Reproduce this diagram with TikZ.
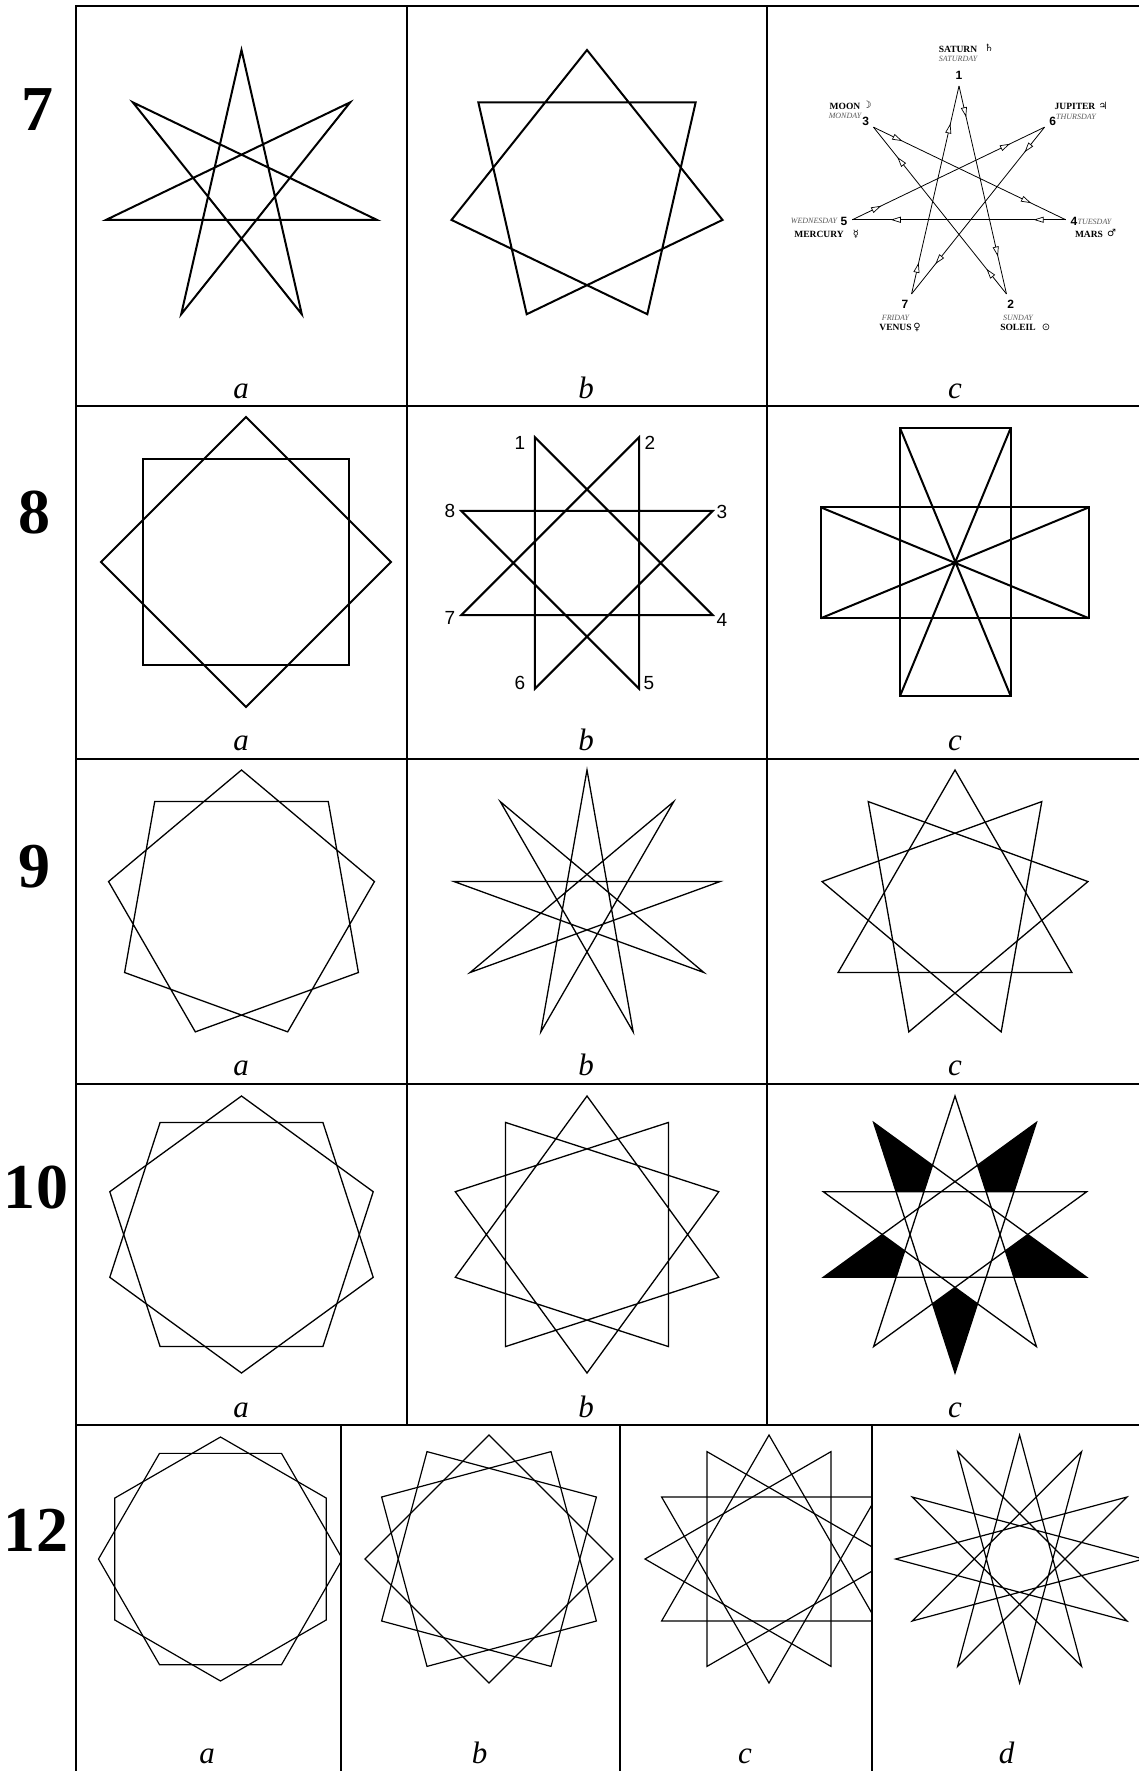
\documentclass[tikz,border=0pt]{standalone}
\usepackage{fontspec}
\setmainfont{Liberation Serif}
\newfontfamily\arialf{Liberation Sans}
\newfontfamily\symf{DejaVu Sans}
\usetikzlibrary{decorations.markings,arrows.meta,calc}

% #1 radius, #2 n, #3 k, #4 start angle, #5 style
\newcommand{\starfig}[5]{%
  \pgfmathtruncatemacro{\sfd}{gcd(#2,#3)}%
  \pgfmathtruncatemacro{\sfm}{#2/\sfd}%
  \pgfmathtruncatemacro{\sfdm}{\sfd-1}%
  \pgfmathtruncatemacro{\sfmm}{\sfm-1}%
  \foreach \c in {0,...,\sfdm}{%
    \draw[#5] ({#4+360/#2*\c}:#1) \foreach \j in {1,...,\sfmm}{ -- ({#4+360/#2*mod(\c+\j*#3,#2)}:#1)} -- cycle;
  }}

\tikzset{
  grid/.style={line width=2.6pt},
  figA/.style={line width=2pt, line join=miter},
  figB/.style={line width=1.3pt, line join=miter},
  figC/.style={line width=1.2pt, line join=miter},
  planet/.style={line width=0.8pt},
  arrmarks/.style={postaction={decorate}, decoration={markings,
     mark=at position 0.15 with {\arrow{Triangle[length=10pt,width=6pt,fill=white,line width=0.7pt]}},
     mark=at position 0.82 with {\arrow{Triangle[length=10pt,width=6pt,fill=white,line width=0.7pt]}}}},
  rowlab/.style={font=\fontsize{64}{64}\selectfont\bfseries, inner sep=0},
  sublab/.style={font=\fontsize{31}{31}\selectfont\itshape, inner sep=0, anchor=base},
  numlab/.style={font=\arialf\fontsize{19}{19}\selectfont, inner sep=0},
  pl/.style={font=\fontsize{9.5}{9.5}\selectfont\bfseries, inner sep=0},
  pd/.style={font=\fontsize{8}{8}\selectfont\itshape, text=black!65, inner sep=0},
  pn/.style={font=\arialf\fontsize{12}{12}\selectfont\bfseries, inner sep=0},
  ps/.style={font=\symf\fontsize{10}{10}\selectfont, inner sep=0},
}

\begin{document}
\begin{tikzpicture}[x=1pt,y=-1pt]
\useasboundingbox (0,0) rectangle (1139,1771);
\fill[white] (0,0) rectangle (1139,1771);

% ---------- grid ----------
\draw[grid] (76,1771) -- (76,6) -- (1139,6);
\draw[grid] (407,6) -- (407,1425);
\draw[grid] (767,6) -- (767,1425);
\foreach \y in {406,759,1084,1425} \draw[grid] (76,\y) -- (1139,\y);
\foreach \x in {341,620,872} \draw[grid] (\x,1425) -- (\x,1771);

% ---------- row labels ----------
\node[rowlab] (r7) at (37,110) {7};
\node[rowlab] (r8) at (34,513) {8};
\node[rowlab] (r9) at (34,867) {9};
\node[rowlab] (r10) at (36,1188) {10};
\node[rowlab] (r12) at (36,1530) {12};

% ---------- row 7 ----------
\begin{scope}[shift={(241.5,189)}] \starfig{139}{7}{3}{-90}{figA} \end{scope}
\begin{scope}[shift={(587,189)}] \starfig{139}{7}{2}{-90}{figA} \end{scope}

% planetary heptagram
\begin{scope}[shift={(959,195.4)}]
\foreach \j in {1,...,7}{
  \pgfmathsetmacro{\ang}{-90+360/7*mod(3*(\j-1),7)}
  \coordinate (p\j) at (\ang:109.4);
}
\end{scope}
\foreach \a/\b in {1/2,2/3,3/4,4/5,5/6,6/7,7/1}
  \draw[planet, arrmarks] (p\a) -- (p\b);

\node[pl] (satw) at (958,49.3) {SATURN};
\node[ps] (sats) at (989,47.5) {♄};
\node[pd] (satd) at (958,59.3) {SATURDAY};
\node[pn] (n1) at (959,75) {1};

\node[pl] (moonw) at (845,106) {MOON};
\node[ps] (moons) at (867,105) {☽};
\node[pd] (moond) at (845,116) {MONDAY};
\node[pn] (n3) at (865.7,121) {3};

\node[pl] (jupw) at (1075,106.7) {JUPITER};
\node[ps] (jups) at (1103,105.5) {♃};
\node[pd] (jupd) at (1076,116.7) {THURSDAY};
\node[pn] (n6) at (1052.7,121.7) {6};

\node[pd] (merd) at (814,221) {WEDNESDAY};
\node[pn] (n5) at (844,221) {5};
\node[pl] (merw) at (819,234.3) {MERCURY};
\node[ps] (mers) at (856,234.3) {☿};

\node[pn] (n4) at (1074,221.7) {4};
\node[pd] (marsd) at (1094.5,222) {TUESDAY};
\node[pl] (marsw) at (1089,234.3) {MARS};
\node[ps] (marss) at (1111.7,232.5) {♂};

\node[pn] (n7) at (905,304.3) {7};
\node[pd] (vend) at (895.5,317.7) {FRIDAY};
\node[pl] (venw) at (895.5,327.7) {VENUS};
\node[ps] (vens) at (917,327.7) {♀};

\node[pn] (n2) at (1010.7,304.3) {2};
\node[pd] (sund) at (1018,317.7) {SUNDAY};
\node[pl] (sunw) at (1018,327.7) {SOLEIL};
\node[ps] (suns) at (1046,327.7) {⊙};

\node[sublab] (l7a) at (241,398) {a};
\node[sublab] (l7b) at (586,398) {b};
\node[sublab] (l7c) at (955,398) {c};

% ---------- row 8 ----------
\begin{scope}[shift={(246,562)}] \starfig{145}{8}{2}{-90}{figA} \end{scope}
\begin{scope}[shift={(587,563)}] \starfig{136}{8}{3}{-112.5}{figA} \end{scope}
\node[numlab] (e1) at (520,443) {1};
\node[numlab] (e2) at (650,443) {2};
\node[numlab] (e3) at (722,512) {3};
\node[numlab] (e4) at (722,620) {4};
\node[numlab] (e5) at (649,683) {5};
\node[numlab] (e6) at (520,683) {6};
\node[numlab] (e7) at (450,618) {7};
\node[numlab] (e8) at (450,511) {8};

\coordinate (va) at (900,428);
\coordinate (vb) at (1010.7,428);
\coordinate (vc) at (1010.7,696);
\coordinate (vd) at (900,696);
\coordinate (ha) at (820.7,507.3);
\coordinate (hb) at (1089,507.3);
\coordinate (hc) at (1089,618.3);
\coordinate (hd) at (820.7,618.3);
\draw[figA] (va) -- (vb) -- (vc) -- (vd) -- cycle;
\draw[figA] (ha) -- (hb) -- (hc) -- (hd) -- cycle;
\draw[figA] (va) -- (vc) (vb) -- (vd) (ha) -- (hc) (hb) -- (hd);

\node[sublab] (l8a) at (241,750) {a};
\node[sublab] (l8b) at (586,750) {b};
\node[sublab] (l8c) at (955,750) {c};

% ---------- row 9 ----------
\begin{scope}[shift={(241.5,905)}] \starfig{135}{9}{2}{-90}{figB} \end{scope}
\begin{scope}[shift={(587,905)}] \starfig{135}{9}{4}{-90}{figB} \end{scope}
\begin{scope}[shift={(955,905)}] \starfig{135}{9}{3}{-90}{figB} \end{scope}
\node[sublab] (l9a) at (241,1075) {a};
\node[sublab] (l9b) at (586,1075) {b};
\node[sublab] (l9c) at (955,1075) {c};

% ---------- row 10 ----------
\begin{scope}[shift={(241.5,1234.5)}] \starfig{138.5}{10}{2}{-90}{figB} \end{scope}
\begin{scope}[shift={(587,1234.5)}] \starfig{138.5}{10}{3}{-90}{figB} \end{scope}
\begin{scope}[shift={(955,1234.5)}]
  \foreach \k in {0,...,9} \coordinate (t\k) at ({-90-36*\k}:138.5);
\end{scope}
\foreach \k in {1,3,5,7,9}{
  \pgfmathtruncatemacro{\ka}{mod(\k+4,10)}
  \pgfmathtruncatemacro{\kb}{mod(\k+1,10)}
  \pgfmathtruncatemacro{\kc}{mod(\k+7,10)}
  \pgfmathtruncatemacro{\kd}{mod(\k+9,10)}
  \pgfmathtruncatemacro{\ke}{mod(\k+3,10)}
  \pgfmathtruncatemacro{\kf}{mod(\k+6,10)}
  \fill (t\k)
     -- (intersection cs: first line={(t\k)--(t\ka)}, second line={(t\kb)--(t\kc)})
     -- (intersection cs: first line={(t\kb)--(t\kc)}, second line={(t\kd)--(t\ke)})
     -- (intersection cs: first line={(t\kd)--(t\ke)}, second line={(t\k)--(t\kf)})
     -- cycle;
}
\begin{scope}[shift={(955,1234.5)}] \starfig{138.5}{10}{4}{-90}{figB} \end{scope}
\node[sublab] (l10a) at (241,1417) {a};
\node[sublab] (l10b) at (586,1417) {b};
\node[sublab] (l10c) at (955,1417) {c};

% ---------- row 12 ----------
\begin{scope}
  \clip (77,1426) rectangle (341,1771);
  \begin{scope}[shift={(220.5,1559)}] \starfig{122}{12}{2}{-90}{figC} \end{scope}
\end{scope}
\begin{scope}[shift={(489,1559)}] \starfig{124}{12}{3}{-90}{figC} \end{scope}
\begin{scope}
  \clip (620,1426) rectangle (872,1771);
  \begin{scope}[shift={(769,1559)}] \starfig{124}{12}{4}{-90}{figC} \end{scope}
\end{scope}
\begin{scope}
  \clip (872,1426) rectangle (1139,1771);
  \begin{scope}[shift={(1019.6,1559)}] \starfig{124}{12}{5}{-90}{figC} \end{scope}
\end{scope}
\node[sublab] (l12a) at (207,1763) {a};
\node[sublab] (l12b) at (479.6,1763) {b};
\node[sublab] (l12c) at (745,1763) {c};
\node[sublab] (l12d) at (1006.5,1763) {d};
\end{tikzpicture}
\end{document}
